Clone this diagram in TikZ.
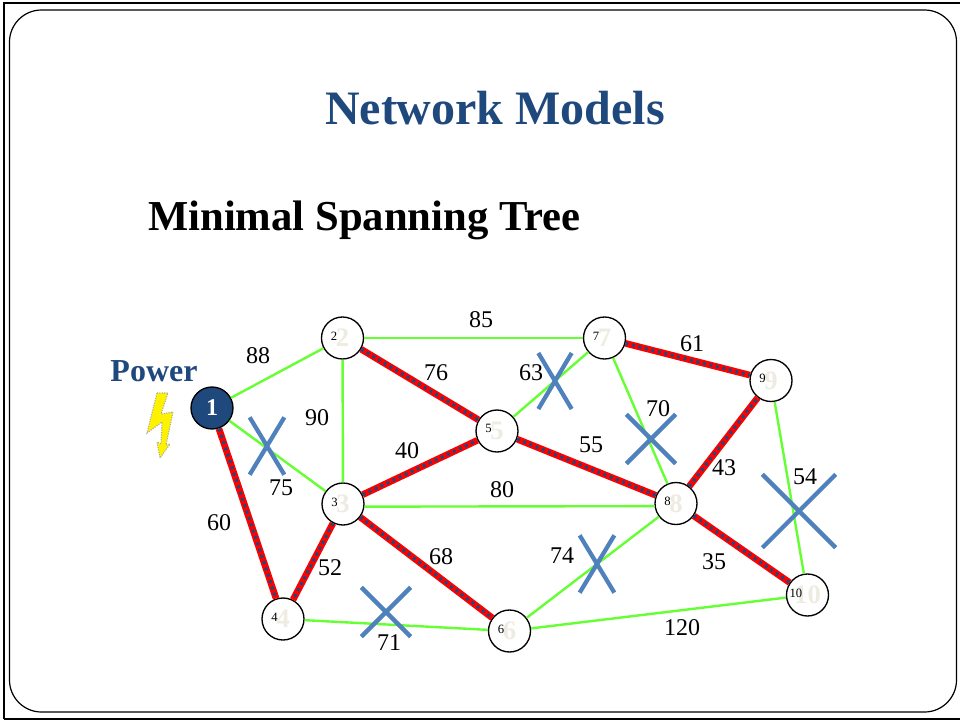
\documentclass[tikz,border=0pt]{standalone}
\usepackage{fontspec}
\setmainfont{Liberation Serif}
\usetikzlibrary{shapes.misc}
\definecolor{navyblue}{HTML}{1F497D}
\definecolor{crossblue}{HTML}{4F81BD}
\definecolor{palenum}{HTML}{EEECE1}
\definecolor{linkgreen}{HTML}{66FF33}
\tikzset{
  vertex/.style={circle,draw=black,fill=white,line width=1pt,minimum size=31.5pt,inner sep=0pt},
  link/.style={draw=linkgreen,line width=1.8pt},
  treelink/.style={preaction={draw=red,line width=5pt},draw=navyblue,line width=2.4pt,dash pattern=on 2.2pt off 2.8pt},
  crossmark/.style={cross out,draw=crossblue,line width=3.2pt,inner sep=0pt,outer sep=0pt},
  weight/.style={font=\fontsize{18}{20}\selectfont,inner sep=0pt}
}
\newcommand{\vlabel}[1]{\makebox[0pt]{\fontsize{20}{20}\selectfont\bfseries\textcolor{palenum}{#1}}\llap{\raisebox{5pt}{\fontsize{9.5}{10}\selectfont #1\hspace{4pt}}}}
\begin{document}
\begin{tikzpicture}[x=0.75pt,y=-0.75pt]
      \useasboundingbox (0,0) rectangle (960,721);
      \coordinate (frameA) at (4,719);
      \coordinate (frameB) at (4,3);
      \coordinate (frameC) at (960,3);
      \coordinate (frameD) at (960,719);
      \draw[line width=2.2pt] (frameA) -- (frameB) -- (frameC);
      \draw[line width=1.2pt] (frameA) -- (frameD);
      \coordinate (cardA) at (9.5,10);
      \coordinate (cardB) at (956.5,712);
      \draw[line width=0.9pt,rounded corners=24pt,fill=white] (cardA) rectangle (cardB);
      \node[text=navyblue,font=\fontsize{36}{40}\selectfont\bfseries] (title) at (495,108) {Network Models};
      \node[font=\fontsize{32}{36}\selectfont\bfseries,anchor=west,inner sep=0pt] (heading) at (148,220) {Minimal Spanning Tree};
      \node[text=navyblue,font=\fontsize{24}{26}\selectfont\bfseries,inner sep=0pt] (power) at (154,371) {Power};
      \draw[draw=gray!70,line width=0.8pt,densely dotted,fill=yellow] (157,393) -- (168,393) -- (161,414) -- (173,412) -- (166,445) -- (170,444) -- (160,458) -- (157,442) -- (161,444) -- (162,422) -- (147,433) -- cycle;
      \draw
        (212,408) node[vertex,fill=navyblue,text=white,font=\fontsize{18}{18}\selectfont\bfseries] (1){1}
        (342.5,338) node[vertex] (2){\vlabel{2}}
        (343,504) node[vertex] (3){\vlabel{3}}
        (283,619) node[vertex] (4){\vlabel{4}}
        (497,431) node[vertex] (5){\vlabel{5}}
        (509.5,631) node[vertex] (6){\vlabel{6}}
        (604.5,338) node[vertex] (7){\vlabel{7}}
        (676,503.5) node[vertex] (8){\vlabel{8}}
        (771,380.5) node[vertex] (9){\vlabel{9}}
        (807.5,595) node[vertex] (10){\vlabel{10}};
      \begin{scope}[link]
        \draw (1) to (2);
        \draw (1) to (3);
        \draw (2) to (3);
        \draw (2) to (7);
        \draw (3.-7) to (8.187);
        \draw (4) to (6);
        \draw (5) to (7);
        \draw (6) to (8);
        \draw (6) to (10);
        \draw (7) to (8);
        \draw (9) to (10);
      \end{scope}
      \draw[treelink] (1) to (4);
      \draw[treelink] (2) to (5);
      \draw[treelink] (3) to (4);
      \draw[treelink] (3) to (5);
      \draw[treelink] (3) to (6);
      \draw[treelink] (5) to (8);
      \draw[treelink] (7) to (9);
      \draw[treelink] (8) to (9);
      \draw[treelink] (8) to (10);
      \begin{scope}[every node/.style=weight]
        \node (w12) at (258,356) {88};
        \node (w13) at (281,488) {75};
        \node (w14) at (219,523) {60};
        \node (w23) at (317,418) {90};
        \node (w27) at (481,320) {85};
        \node (w25) at (436,373) {76};
        \node (w35) at (407,451) {40};
        \node (w38) at (502,490) {80};
        \node (w34) at (330,568) {52};
        \node (w36) at (441,557) {68};
        \node (w46) at (389,643) {71};
        \node (w57) at (531,373) {63};
        \node (w58) at (591,445) {55};
        \node (w68) at (562,556) {74};
        \node (w78) at (658,409) {70};
        \node (w79) at (692,344) {61};
        \node (w89) at (724,468) {43};
        \node (w810) at (714,562) {35};
        \node (w910) at (805,477) {54};
        \node (w610) at (682,628) {120};
      \end{scope}
      \begin{scope}[every node/.style=crossmark]
        \node[minimum width=26pt,minimum height=43pt] (x13) at (267,446) {};
        \node[minimum width=37pt,minimum height=37pt] (x46) at (386,612) {};
        \node[minimum width=25pt,minimum height=42pt] (x57) at (555,381) {};
        \node[minimum width=37pt,minimum height=37pt] (x78) at (651,439) {};
        \node[minimum width=26pt,minimum height=43pt] (x68) at (597,564) {};
        \node[minimum width=55pt,minimum height=55pt] (x910) at (799,511) {};
      \end{scope}
    \end{tikzpicture}
\end{document}
